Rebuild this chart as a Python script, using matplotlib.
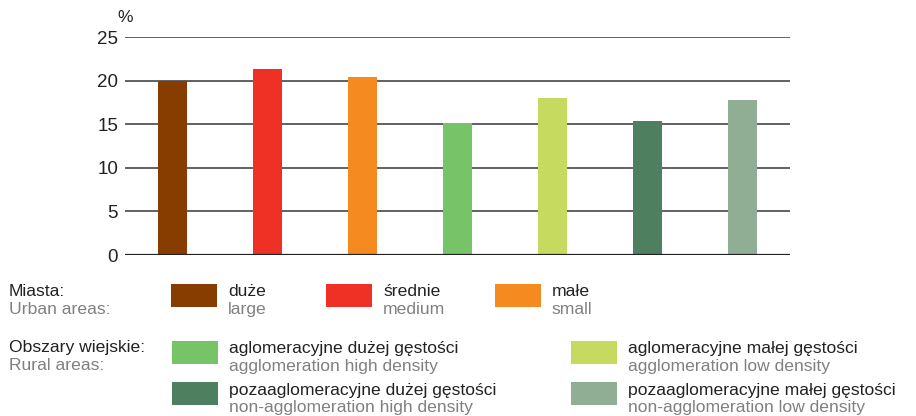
import matplotlib.pyplot as plt
from matplotlib.patches import Rectangle

plt.rcParams['font.family'] = ['Liberation Sans', 'DejaVu Sans']

# wartości słupków (%)
values = [19.9, 21.3, 20.4, 15.1, 18.0, 15.4, 17.8]
colors = ['#873D00', '#EE3124', '#F58B20', '#77C367', '#C5DA5E', '#4E7F5E', '#90AE94']
yticks = [0, 5, 10, 15, 20, 25]

urban_pl = ['duże', 'średnie', 'małe']
urban_en = ['large', 'medium', 'small']
rural_pl = ['aglomeracyjne dużej gęstości', 'aglomeracyjne małej gęstości',
            'pozaaglomeracyjne dużej gęstości', 'pozaaglomeracyjne małej gęstości']
rural_en = ['agglomeration high density', 'agglomeration low density',
            'non-agglomeration high density', 'non-agglomeration low density']
rural_colors = [colors[3], colors[4], colors[5], colors[6]]

W, H = 916, 416
FS = 12.6
fig = plt.figure(figsize=(W / 100, H / 100), dpi=100)
ax = fig.add_axes([125 / W, 1 - 255 / H, 665 / W, 218 / H])

ax.bar(range(len(values)), values, width=0.315, color=colors, zorder=3)
ax.set_xlim(-0.5, 6.5)
ax.set_ylim(0, 25)
ax.set_yticks(yticks)
ax.set_xticks([])
for t in yticks:
    if t == 0:
        ax.axhline(t, color='#222222', lw=1.6, zorder=4)
    else:
        ax.axhline(t, color='#555555', lw=1.3, zorder=1)
for s in ax.spines.values():
    s.set_visible(False)
ax.tick_params(axis='y', length=0, pad=5, labelsize=13.5, labelcolor='#222222')
fig.text(117 / W, 1 - 18 / H, '%', fontsize=12.5, color='#222222', ha='left', va='center')


def px(x, y):
    return x / W, 1 - y / H


def entry(x, y, color, pl, en):
    fig.add_artist(Rectangle(px(x, y + 23), 46 / W, 23 / H, transform=fig.transFigure,
                             color=color, lw=0))
    fig.text(*px(x + 57, y + 12.5), pl, fontsize=FS, color='#222222', va='baseline')
    fig.text(*px(x + 57, y + 30), en, fontsize=FS, color='#808080', va='baseline')


gray = '#808080'
fig.text(*px(9, 296.5), 'Miasta:', fontsize=FS, color='#222222', va='baseline')
fig.text(*px(9, 314), 'Urban areas:', fontsize=FS, color=gray, va='baseline')
fig.text(*px(9, 352), 'Obszary wiejskie:', fontsize=FS, color='#222222', va='baseline')
fig.text(*px(9, 369.5), 'Rural areas:', fontsize=FS, color=gray, va='baseline')

urban_x = [171, 326, 495]
for i in range(3):
    entry(urban_x[i], 284, colors[i], urban_pl[i], urban_en[i])

rural_pos = [(172, 341), (571, 341), (172, 382), (571, 382)]
for i in range(4):
    entry(rural_pos[i][0], rural_pos[i][1], rural_colors[i], rural_pl[i], rural_en[i])

fig.savefig('out.png', dpi=100)
